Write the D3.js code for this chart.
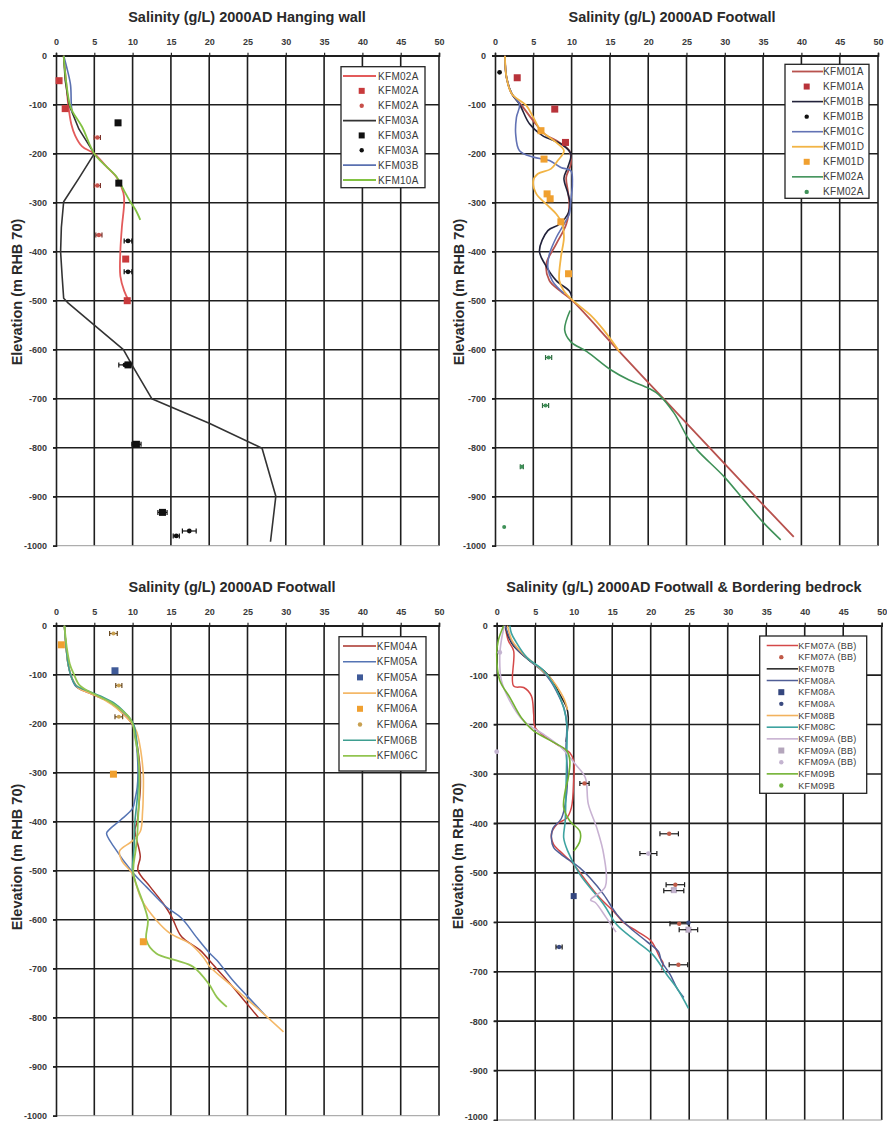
<!DOCTYPE html>
<html>
<head>
<meta charset="utf-8">
<script src="https://cdn.jsdelivr.net/npm/d3@7"></script>
<style>
  body { margin: 0; background: #fff; }
  svg { display: block; font-family: "Liberation Sans", Arial, sans-serif; }
</style>
</head>
<body>
<svg id="chart" width="887" height="1121"></svg>
<script>
// axis ticks shared by all four panels
const xTicks = [0, 5, 10, 15, 20, 25, 30, 35, 40, 45, 50];
const yTicks = [0, -100, -200, -300, -400, -500, -600, -700, -800, -900, -1000];

// values are [salinity g/L, elevation m] (error bars: [s, e, +/-])
// --- panel 1: hanging wall
const hw_KFM02A_line = [[1.0,0],[1.3,-50],[1.6,-100],[2.0,-140],[2.5,-163],[3.4,-185],[5.0,-200],[6.5,-225],[8.0,-250],[8.8,-280],[8.9,-300],[8.6,-350],[8.4,-400],[8.4,-450],[8.9,-480],[9.5,-500]];
const hw_KFM02A_sq = [[0.4,-51],[1.2,-108],[9.1,-415],[9.3,-500]];
const hw_KFM02A_pts = [[5.4,-167,0.4],[5.4,-265,0.4],[5.6,-366,0.4]];
const hw_KFM03A_line = [[1.0,0],[1.2,-50],[1.7,-100],[3.0,-150],[5.0,-200],[3.0,-250],[1.0,-298],[0.7,-350],[0.6,-400],[0.8,-450],[1.0,-495],[1.6,-505],[5.0,-550],[8.8,-600],[10.1,-636],[12.5,-700],[20.0,-750],[26.9,-801],[28.7,-899],[28.0,-992]];
const hw_KFM03A_sq = [[8.1,-137],[8.2,-260],[9.4,-631],[10.5,-793],[13.9,-932]];
const hw_KFM03A_pts = [[9.4,-378,0.5],[9.4,-441,0.5],[9.0,-631,0.8],[10.5,-793,0.6],[13.9,-932,0.6],[15.7,-980,0.4],[17.4,-970,0.9]];
const hw_KFM03B_line = [[1.0,0],[1.5,-30],[1.9,-60],[2.0,-100],[2.1,-115]];
const hw_KFM10A_line = [[1.0,0],[1.3,-50],[1.8,-100],[2.2,-115],[3.4,-145],[5.0,-200],[6.5,-225],[7.9,-247],[8.7,-270],[9.7,-298],[10.4,-315],[11.0,-335]];

// --- panel 2: footwall KFM01/KFM02
const fw1_KFM01A_line = [[1.3,0],[1.5,-44],[2.2,-78],[3.5,-102],[5.0,-133],[6.5,-160],[8.4,-177],[9.7,-194],[9.9,-221],[9.3,-248],[9.5,-275],[9.7,-303],[9.3,-344],[8.0,-384],[6.7,-425],[7.1,-459],[8.5,-480],[10.1,-500],[16.0,-600],[22.0,-700],[28.0,-800],[34.0,-900],[39.0,-982]];
const fw1_KFM01A_sq = [[2.9,-45],[7.8,-109],[9.2,-177]];
const fw1_KFM01B_line = [[1.3,0],[1.5,-44],[2.2,-78],[3.2,-99],[4.5,-139],[6.2,-163],[8.6,-180],[9.9,-200],[9.5,-228],[9.0,-250],[9.5,-280],[9.8,-300],[9.6,-320],[8.4,-344],[6.9,-357],[5.8,-398],[6.5,-425],[8.0,-459],[9.7,-480],[10.0,-490]];
const fw1_KFM01B_pts = [[0.6,-34,0]];
const fw1_KFM01C_line = [[1.3,0],[1.5,-44],[2.2,-78],[3.2,-99],[2.8,-126],[2.7,-160],[3.2,-194],[5.0,-207],[7.1,-214],[8.6,-228],[9.9,-235],[10.1,-262],[9.9,-296],[9.7,-323],[9.0,-344],[8.0,-371],[7.1,-405],[6.9,-432],[7.5,-460],[9.0,-485]];
const fw1_KFM01D_line = [[1.3,0],[1.5,-44],[2.2,-78],[4.1,-102],[5.0,-126],[6.0,-153],[8.0,-177],[9.0,-194],[8.2,-214],[7.3,-231],[5.6,-241],[5.0,-255],[5.4,-282],[6.7,-303],[8.0,-323],[8.8,-344],[9.0,-371],[8.6,-412],[8.4,-459],[9.0,-480],[10.2,-500],[12.5,-530],[14.2,-560],[16.3,-605]];
const fw1_KFM01D_sq = [[6.0,-153],[6.4,-211],[6.8,-282],[7.2,-292],[8.6,-339],[9.6,-445]];
const fw1_KFM02A_line = [[9.8,-520],[9.1,-560],[9.9,-584],[12.0,-604],[15.1,-641],[17.5,-662],[20.1,-679],[21.4,-692],[23.4,-730],[25.1,-778],[26.4,-805],[29.9,-859],[32.5,-907],[35.1,-954],[37.3,-988]];
const fw1_KFM02A_pts = [[7.0,-616,0.4],[6.6,-714,0.4],[3.5,-839,0.2],[1.2,-962,0]];

// --- panel 3: footwall KFM04-KFM06
const fw2_KFM04A_line = [[1.1,0],[1.3,-40],[1.6,-80],[2.1,-108],[2.8,-126],[4.3,-137],[6.2,-150],[7.7,-164],[8.8,-180],[9.7,-195],[10.2,-210],[10.5,-235],[10.8,-265],[11.0,-300],[11.0,-335],[10.8,-370],[10.6,-400],[10.3,-417],[11.0,-471],[10.7,-499],[12.3,-533],[14.0,-567],[15.1,-594],[16.4,-635],[18.8,-662],[20.4,-690],[22.7,-730],[24.9,-771],[26.4,-799]];
const fw2_KFM05A_line = [[1.1,0],[1.3,-40],[1.6,-80],[2.0,-105],[2.6,-124],[4.0,-134],[6.0,-147],[7.5,-161],[8.7,-177],[9.6,-192],[10.1,-205],[10.4,-230],[10.6,-260],[10.7,-300],[10.6,-330],[10.3,-355],[10.0,-373],[8.4,-397],[6.9,-417],[6.6,-424],[7.5,-450],[10.1,-505],[11.8,-533],[14.4,-574],[16.4,-597],[18.3,-635],[20.1,-669],[21.0,-683],[23.1,-724],[25.1,-758],[27.3,-795]];
const fw2_KFM05A_sq = [[7.7,-92]];
const fw2_KFM06A_line = [[1.1,0],[1.3,-40],[1.6,-80],[2.2,-110],[3.0,-128],[4.6,-139],[6.4,-152],[7.9,-168],[9.0,-184],[9.9,-199],[10.5,-215],[10.9,-240],[11.2,-270],[11.4,-305],[11.4,-340],[11.3,-380],[11.0,-420],[9.9,-440],[8.3,-460],[8.6,-480],[9.9,-505],[11.2,-560],[13.1,-601],[14.9,-628],[17.5,-649],[19.2,-676],[20.1,-696],[23.1,-737],[26.6,-785],[29.7,-829]];
const fw2_KFM06A_sq = [[0.7,-39],[7.5,-303],[11.4,-645]];
const fw2_KFM06A_pts = [[7.5,-16,0.5],[8.2,-122,0.4],[8.2,-186,0.5]];
const fw2_KFM06B_line = [[1.1,0],[1.3,-40],[1.6,-80],[2.0,-104],[2.6,-122],[4.0,-132],[6.0,-145],[7.6,-158],[8.8,-174],[9.7,-190],[10.2,-204],[10.5,-230],[10.7,-262],[10.8,-300],[10.7,-335],[10.5,-370],[10.3,-400],[10.2,-450],[10.0,-500],[10.3,-520]];
const fw2_KFM06C_line = [[1.1,0],[1.4,-44],[1.8,-78],[2.3,-98],[3.1,-122],[4.9,-139],[7.1,-156],[8.6,-173],[9.5,-186],[10.0,-200],[10.3,-227],[10.7,-261],[10.9,-302],[10.9,-329],[10.8,-369],[10.7,-397],[10.6,-430],[10.4,-458],[10.1,-505],[11.4,-567],[12.0,-601],[11.8,-642],[13.1,-669],[15.7,-683],[17.9,-696],[19.9,-730],[21.0,-758],[22.3,-778]];

// --- panel 4: footwall and bordering bedrock
const bb_KFM07A_line = [[1.1,0],[1.5,-30],[2.2,-51],[2.2,-122],[3.5,-125],[4.5,-142],[4.8,-179],[5.0,-206],[7.8,-240],[9.5,-257],[10.0,-274],[10.0,-314],[9.7,-368],[9.1,-389],[7.8,-402],[7.1,-422],[7.4,-443],[8.2,-456],[10.0,-483],[11.3,-510],[13.4,-551],[15.2,-578],[16.5,-601],[18.2,-618],[20.1,-639],[21.2,-672],[21.6,-682],[21.4,-697]];
const bb_KFM07A_pts = [[11.4,-319,0.6],[22.4,-421,1.2],[23.2,-524,1.2],[23.7,-603,1.2],[23.6,-686,1.2]];
const bb_KFM07B_line = [[1.1,0],[1.6,-25],[2.2,-41],[4.3,-71],[6.1,-91],[7.1,-108],[8.2,-139],[9.1,-166],[9.3,-186],[9.2,-210],[9.0,-235]];
const bb_KFM08A_line = [[1.1,0],[1.7,-25],[2.5,-45],[4.3,-71],[6.0,-93],[7.0,-112],[8.0,-140],[8.8,-170],[9.1,-200],[9.0,-250],[9.2,-300],[9.0,-350],[8.4,-390],[7.3,-410],[7.1,-430],[7.4,-449],[8.4,-463],[10.8,-490],[12.1,-510],[13.9,-544],[15.6,-584],[17.3,-611],[19.5,-639],[21.0,-659],[21.4,-679],[22.5,-705],[23.4,-733],[24.3,-752]];
const bb_KFM08A_sq = [[10.0,-547]];
const bb_KFM08A_pts = [[8.1,-650,0.4],[24.9,-601,0]];
const bb_KFM08B_line = [[1.4,0],[2.0,-30],[3.5,-58],[5.5,-85],[7.2,-110],[8.3,-135],[8.8,-150],[9.2,-170]];
const bb_KFM08C_line = [[1.7,0],[1.9,-15],[2.4,-30],[3.9,-64],[6.1,-91],[7.6,-125],[8.7,-166],[9.1,-199],[9.1,-260],[9.0,-328],[8.9,-395],[8.7,-429],[9.2,-455],[10.8,-503],[13.9,-564],[15.6,-605],[18.2,-639],[20.3,-666],[22.1,-706],[23.4,-733],[24.9,-774]];
const bb_KFM09A_line = [[1.0,0],[0.6,-30],[0.4,-60],[0.6,-110],[1.7,-152],[3.5,-193],[6.1,-220],[8.4,-247],[10.2,-280],[11.5,-307],[11.9,-361],[13.0,-409],[13.9,-463],[14.1,-528],[12.2,-555],[12.8,-560],[14.2,-590],[15.5,-620]];
const bb_KFM09A_sq = [[23.0,-535],[24.9,-615]];
const bb_KFM09A_pts = [[0.0,-255,0],[0.4,-54,0],[19.7,-461,1.1],[23.0,-536,1.3],[24.9,-615,1.2]];
const bb_KFM09B_line = [[0.9,0],[0.2,-30],[0.0,-57],[0.4,-111],[1.7,-145],[3.2,-186],[4.8,-213],[7.4,-236],[9.1,-253],[9.5,-274],[9.3,-307],[8.9,-334],[8.7,-368],[9.5,-395],[10.8,-416],[10.8,-436],[10.0,-456]];
const bb_KFM09B_pts = [];

// layout and styling of each panel
const panels = [
  {
    title: "Salinity (g/L) 2000AD Hanging wall",
    left: 56, right: 439, top: 55.7, bottom: 545.7,
    titleX: 247, titleY: 22, labX: 17, labY: 292,
    legend: { x: 341, y: 66.7, w: 84, h: 121, first: 76, step: 14.86, l0: 343, l1: 376, mx: 361.7, tx: 378, font: 10 },
    series: [
      { label: "KFM02A", kind: "line", data: hw_KFM02A_line, color: "#e35b5b", width: 1.8 },
      { label: "KFM02A", kind: "square", data: hw_KFM02A_sq, color: "#c83a3c", size: 7 },
      { label: "KFM02A", kind: "dot", data: hw_KFM02A_pts, color: "#c8504a", r: 2.2, err: "#7a3028" },
      { label: "KFM03A", kind: "line", data: hw_KFM03A_line, color: "#333333", width: 1.6, straight: true },
      { label: "KFM03A", kind: "square", data: hw_KFM03A_sq, color: "#111111", size: 7 },
      { label: "KFM03A", kind: "dot", data: hw_KFM03A_pts, color: "#111111", r: 2.4, err: "#111111" },
      { label: "KFM03B", kind: "line", data: hw_KFM03B_line, color: "#5a70b0", width: 1.6 },
      { label: "KFM10A", kind: "line", data: hw_KFM10A_line, color: "#82c242", width: 1.8 }
    ]
  },
  {
    title: "Salinity (g/L) 2000AD Footwall",
    left: 495, right: 878, top: 55.7, bottom: 545.7,
    titleX: 672, titleY: 22, labX: 459, labY: 292,
    legend: { x: 785, y: 64.3, w: 84, h: 134, first: 71.5, step: 15.05, l0: 792, l1: 823, mx: 806.7, tx: 823, font: 10 },
    series: [
      { label: "KFM01A", kind: "line", data: fw1_KFM01A_line, color: "#b8524e", width: 1.8 },
      { label: "KFM01A", kind: "square", data: fw1_KFM01A_sq, color: "#b8333a", size: 7 },
      { label: "KFM01B", kind: "line", data: fw1_KFM01B_line, color: "#22223a", width: 1.6 },
      { label: "KFM01B", kind: "dot", data: fw1_KFM01B_pts, color: "#111111", r: 2.4, err: "#111111" },
      { label: "KFM01C", kind: "line", data: fw1_KFM01C_line, color: "#6272b4", width: 1.6 },
      { label: "KFM01D", kind: "line", data: fw1_KFM01D_line, color: "#f2b445", width: 1.8 },
      { label: "KFM01D", kind: "square", data: fw1_KFM01D_sq, color: "#f0a030", size: 7 },
      { label: "KFM02A", kind: "line", data: fw1_KFM02A_line, color: "#3f9158", width: 1.6 },
      { label: "KFM02A", kind: "dot", data: fw1_KFM02A_pts, color: "#3f9158", r: 2, err: "#2f6b40" }
    ]
  },
  {
    title: "Salinity (g/L) 2000AD Footwall",
    left: 56, right: 439, top: 625.7, bottom: 1115.7,
    titleX: 232, titleY: 592, labX: 17, labY: 857,
    legend: { x: 339, y: 636.7, w: 87, h: 134.3, first: 646, step: 15.7, l0: 343, l1: 376, mx: 360, tx: 376.7, font: 10 },
    series: [
      { label: "KFM04A", kind: "line", data: fw2_KFM04A_line, color: "#a8322a", width: 1.5 },
      { label: "KFM05A", kind: "line", data: fw2_KFM05A_line, color: "#5574b4", width: 1.5 },
      { label: "KFM05A", kind: "square", data: fw2_KFM05A_sq, color: "#3f5a98", size: 7 },
      { label: "KFM06A", kind: "line", data: fw2_KFM06A_line, color: "#f4b868", width: 1.6 },
      { label: "KFM06A", kind: "square", data: fw2_KFM06A_sq, color: "#f0a030", size: 7 },
      { label: "KFM06A", kind: "dot", data: fw2_KFM06A_pts, color: "#c8a050", r: 2, err: "#6a4a20" },
      { label: "KFM06B", kind: "line", data: fw2_KFM06B_line, color: "#3e9e90", width: 1.6 },
      { label: "KFM06C", kind: "line", data: fw2_KFM06C_line, color: "#92c450", width: 1.8 }
    ]
  },
  {
    title: "Salinity (g/L) 2000AD Footwall & Bordering bedrock",
    left: 496.7, right: 881.7, top: 625.7, bottom: 1120,
    titleX: 684, titleY: 592, labX: 458, labY: 856,
    legend: { x: 759.7, y: 636, w: 107, h: 157.3, first: 645.5, step: 11.67, l0: 766.7, l1: 798, mx: 781.3, tx: 798.3, font: 9 },
    series: [
      { label: "KFM07A (BB)", kind: "line", data: bb_KFM07A_line, color: "#d44848", width: 1.5 },
      { label: "KFM07A (BB)", kind: "dot", data: bb_KFM07A_pts, color: "#c05a48", r: 2.2, err: "#1a1a1a" },
      { label: "KFM07B", kind: "line", data: bb_KFM07B_line, color: "#202020", width: 1.5 },
      { label: "KFM08A", kind: "line", data: bb_KFM08A_line, color: "#505e96", width: 1.5 },
      { label: "KFM08A", kind: "square", data: bb_KFM08A_sq, color: "#34467e", size: 6 },
      { label: "KFM08A", kind: "dot", data: bb_KFM08A_pts, color: "#3a4a80", r: 2.2, err: "#1a1a1a" },
      { label: "KFM08B", kind: "line", data: bb_KFM08B_line, color: "#f2b25e", width: 1.6 },
      { label: "KFM08C", kind: "line", data: bb_KFM08C_line, color: "#3ea3a0", width: 1.6 },
      { label: "KFM09A (BB)", kind: "line", data: bb_KFM09A_line, color: "#c8b2d2", width: 1.6 },
      { label: "KFM09A (BB)", kind: "square", data: bb_KFM09A_sq, color: "#b4a6bc", size: 6 },
      { label: "KFM09A (BB)", kind: "dot", data: bb_KFM09A_pts, color: "#c4b4d0", r: 2.4, err: "#1a1a1a" },
      { label: "KFM09B", kind: "line", data: bb_KFM09B_line, color: "#72b232", width: 1.6 },
      { label: "KFM09B", kind: "dot", data: bb_KFM09B_pts, color: "#72b240", r: 2.4, err: "#1a1a1a" }
    ]
  }
];

const svg = d3.select("#chart");
svg.append("rect").attr("width", 887).attr("height", 1121).attr("fill", "#fff");

function drawPanel(p) {
  const g = svg.append("g");
  const x = d3.scaleLinear().domain([0, 50]).range([p.left, p.right]);
  const y = d3.scaleLinear().domain([0, -1000]).range([p.top, p.bottom]);

  // grid
  g.append("g").selectAll("line.v")
    .data(xTicks.slice(1))
    .join("line")
    .attr("x1", d => x(d)).attr("x2", d => x(d))
    .attr("y1", p.top).attr("y2", p.bottom)
    .attr("stroke", "#1e1e1e").attr("stroke-width", 1.6);
  g.append("g").selectAll("line.h")
    .data(yTicks)
    .join("line")
    .attr("x1", p.left - 3).attr("x2", p.right)
    .attr("y1", d => y(d)).attr("y2", d => y(d))
    .attr("stroke", d => d === -1000 ? "#9a9a9a" : "#1e1e1e")
    .attr("stroke-width", d => d === -1000 ? 1 : 1.6);

  // x axis along the top
  const ax = g.append("g")
    .attr("transform", `translate(0,${p.top})`)
    .call(d3.axisTop(x).tickValues(xTicks).tickSize(3).tickPadding(8).tickFormat(d => String(d)));
  // y axis
  const ay = g.append("g")
    .attr("transform", `translate(${p.left},0)`)
    .call(d3.axisLeft(y).tickValues(yTicks).tickSize(3).tickPadding(6).tickFormat(d => String(d)));
  [ax, ay].forEach(a => {
    a.select(".domain").attr("stroke", "#1e1e1e").attr("stroke-width", 1.6);
    a.selectAll(".tick line").attr("stroke", "#222").attr("stroke-width", 1.2);
    a.selectAll(".tick text")
      .attr("fill", "#3a3a3a")
      .style("font-size", "9px")
      .style("font-weight", "bold")
      .style("font-family", "'Liberation Sans', Arial, sans-serif");
  });
  // keep the lowest label inside the page
  ay.selectAll(".tick text")
    .filter(d => y(d) + 4 > 1121)
    .attr("dy", "-0.05em");

  // title
  g.append("text")
    .attr("x", p.titleX).attr("y", p.titleY)
    .attr("text-anchor", "middle")
    .style("font-size", "14.5px").style("font-weight", "bold")
    .attr("fill", "#2a2a2a")
    .text(p.title);

  // y label
  g.append("text")
    .attr("transform", `translate(${p.labX + 5},${p.labY}) rotate(-90)`)
    .attr("text-anchor", "middle")
    .style("font-size", "14.5px").style("font-weight", "bold")
    .attr("fill", "#2a2a2a")
    .text("Elevation (m RHB 70)");

  const smooth = d3.line()
    .x(d => x(d[0])).y(d => y(d[1]))
    .curve(d3.curveCatmullRom.alpha(0.5));
  const straight = d3.line()
    .x(d => x(d[0])).y(d => y(d[1]));

  // lines first
  p.series.filter(s => s.kind === "line").forEach(s => {
    g.append("path").datum(s.data)
      .attr("d", s.straight ? straight : smooth)
      .attr("fill", "none")
      .attr("stroke", s.color)
      .attr("stroke-width", s.width)
      .attr("stroke-linejoin", "round");
  });

  // then markers
  p.series.filter(s => s.kind !== "line").forEach(s => {
    if (s.kind === "square") {
      g.append("g").selectAll("rect")
        .data(s.data)
        .join("rect")
        .attr("x", d => x(d[0]) - s.size / 2)
        .attr("y", d => y(d[1]) - s.size / 2)
        .attr("width", s.size).attr("height", s.size)
        .attr("fill", s.color);
    } else {
      const eb = g.append("g").attr("stroke", s.err).attr("stroke-width", 1.2);
      const withErr = s.data.filter(d => d[2] > 0);
      eb.selectAll("line.bar").data(withErr).join("line")
        .attr("x1", d => x(d[0] - d[2])).attr("x2", d => x(d[0] + d[2]))
        .attr("y1", d => y(d[1])).attr("y2", d => y(d[1]));
      eb.selectAll("line.capl").data(withErr).join("line")
        .attr("x1", d => x(d[0] - d[2])).attr("x2", d => x(d[0] - d[2]))
        .attr("y1", d => y(d[1]) - 2.5).attr("y2", d => y(d[1]) + 2.5);
      eb.selectAll("line.capr").data(withErr).join("line")
        .attr("x1", d => x(d[0] + d[2])).attr("x2", d => x(d[0] + d[2]))
        .attr("y1", d => y(d[1]) - 2.5).attr("y2", d => y(d[1]) + 2.5);
      g.append("g").selectAll("circle")
        .data(s.data)
        .join("circle")
        .attr("cx", d => x(d[0])).attr("cy", d => y(d[1]))
        .attr("r", s.r)
        .attr("fill", s.color);
    }
  });

  // legend
  const L = p.legend;
  g.append("rect")
    .attr("x", L.x).attr("y", L.y).attr("width", L.w).attr("height", L.h)
    .attr("fill", "#fff").attr("stroke", "#222").attr("stroke-width", 1.3);
  p.series.forEach((s, i) => {
    const cy = L.first + i * L.step;
    if (s.kind === "line") {
      g.append("line")
        .attr("x1", L.l0).attr("x2", L.l1).attr("y1", cy).attr("y2", cy)
        .attr("stroke", s.color).attr("stroke-width", s.width);
    } else if (s.kind === "square") {
      g.append("rect")
        .attr("x", L.mx - 3).attr("y", cy - 3).attr("width", 6).attr("height", 6)
        .attr("fill", s.color);
    } else {
      g.append("circle").attr("cx", L.mx).attr("cy", cy).attr("r", 2.2).attr("fill", s.color);
    }
    g.append("text")
      .attr("x", L.tx).attr("y", cy).attr("dy", "0.35em")
      .style("font-size", L.font + "px")
      .style("letter-spacing", "0.3px")
      .attr("fill", "#3a3a3a")
      .text(s.label);
  });
}

panels.forEach(drawPanel);
</script>
</body>
</html>
